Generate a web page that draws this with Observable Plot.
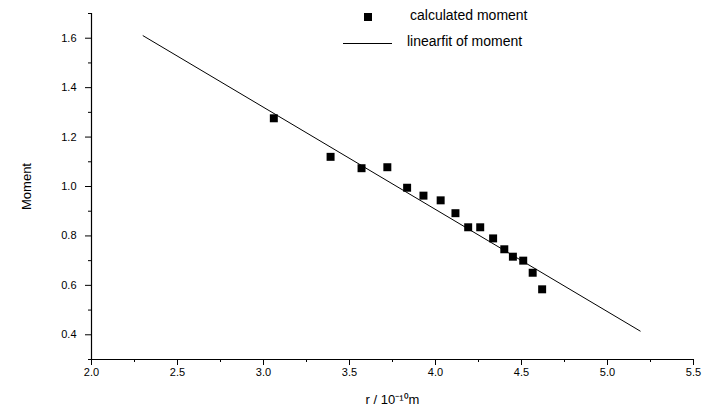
<!DOCTYPE html>
<html>
<head>
<meta charset="utf-8">
<script src="https://cdn.jsdelivr.net/npm/d3@7"></script>
<script src="https://cdn.jsdelivr.net/npm/@observablehq/plot@0.6"></script>
<style>
  html, body { margin: 0; padding: 0; background: #fff; }
  #wrap { position: relative; width: 705px; height: 414px; font-family: "Liberation Sans", Arial, sans-serif; }
  .leg { position: absolute; font-size: 14px; color: #000; white-space: nowrap; }
  .sq { position: absolute; width: 8px; height: 8px; background: #000; }
  .ln { position: absolute; height: 0; border-top: 1px solid #000; }
</style>
</head>
<body>
<div id="wrap">
  <div id="chart"></div>
  <div class="sq" style="left:364px; top:13px;"></div>
  <div class="leg" style="left:410px; top:7px;">calculated moment</div>
  <div class="ln" style="left:343px; top:43px; width:49px;"></div>
  <div class="leg" style="left:407px; top:33px;">linearfit of moment</div>
</div>
<script>
// calculated moment (r in 1e-10 m, moment)
const rValues = [3.06, 3.39, 3.57, 3.72, 3.835, 3.93, 4.03, 4.116, 4.19, 4.26, 4.335, 4.40, 4.45, 4.51, 4.565, 4.62];
const momentValues = [1.276, 1.12, 1.074, 1.078, 0.995, 0.963, 0.944, 0.892, 0.835, 0.835, 0.79, 0.746, 0.716, 0.70, 0.651, 0.584];
// linear fit endpoints
const fitR = [2.3, 5.19];
const fitMoment = [1.61, 0.415];
// ticks
const xTicks = [2.0, 2.5, 3.0, 3.5, 4.0, 4.5, 5.0, 5.5];
const xMinor = [2.25, 2.75, 3.25, 3.75, 4.25, 4.75, 5.25];
const yTicks = [0.4, 0.6, 0.8, 1.0, 1.2, 1.4, 1.6];
const yMinor = [0.3, 0.5, 0.7, 0.9, 1.1, 1.3, 1.5, 1.7];

const points = rValues.map((r, i) => ({r, m: momentValues[i]}));
const fit = fitR.map((r, i) => ({r, m: fitMoment[i]}));

const chart = Plot.plot({
  width: 705,
  height: 414,
  marginLeft: 91,
  marginRight: 12,
  marginTop: 13,
  marginBottom: 55,
  style: {fontFamily: "Liberation Sans, Arial, sans-serif", fontSize: "11px", background: "#fff", color: "#000"},
  x: {domain: [2.0, 5.5]},
  y: {domain: [0.3, 1.7]},
  marks: [
    Plot.axisX({ticks: xTicks, tickSize: 6, tickPadding: 3, tickFormat: d3.format(".1f"),
      label: "r / 10⁻¹⁰m", labelAnchor: "center", labelArrow: "none", labelOffset: 44, fontSize: 11}),
    Plot.axisX({ticks: xMinor, tickSize: 3, tickFormat: null, label: null, text: null}),
    Plot.axisY({ticks: yTicks, tickSize: 6, tickPadding: 9, tickFormat: d3.format(".1f"),
      label: "Moment", labelAnchor: "center", labelArrow: "none", labelOffset: 70, fontSize: 11}),
    Plot.axisY({ticks: yMinor, tickSize: 3, label: null, text: null}),
    Plot.ruleY([0.3], {stroke: "#000", strokeWidth: 1.2}),
    Plot.ruleX([2.0], {stroke: "#000", strokeWidth: 1.2}),
    Plot.line(fit, {x: "r", y: "m", stroke: "#000", strokeWidth: 1}),
    Plot.dot(points, {x: "r", y: "m", symbol: "square", r: 4.5, fill: "#000", stroke: "none"})
  ]
});
document.getElementById("chart").appendChild(chart);
// enlarge axis titles a bit
d3.select(chart).selectAll("[aria-label='x-axis label'] text, [aria-label='y-axis label'] text").style("font-size", "13px");
</script>
</body>
</html>
